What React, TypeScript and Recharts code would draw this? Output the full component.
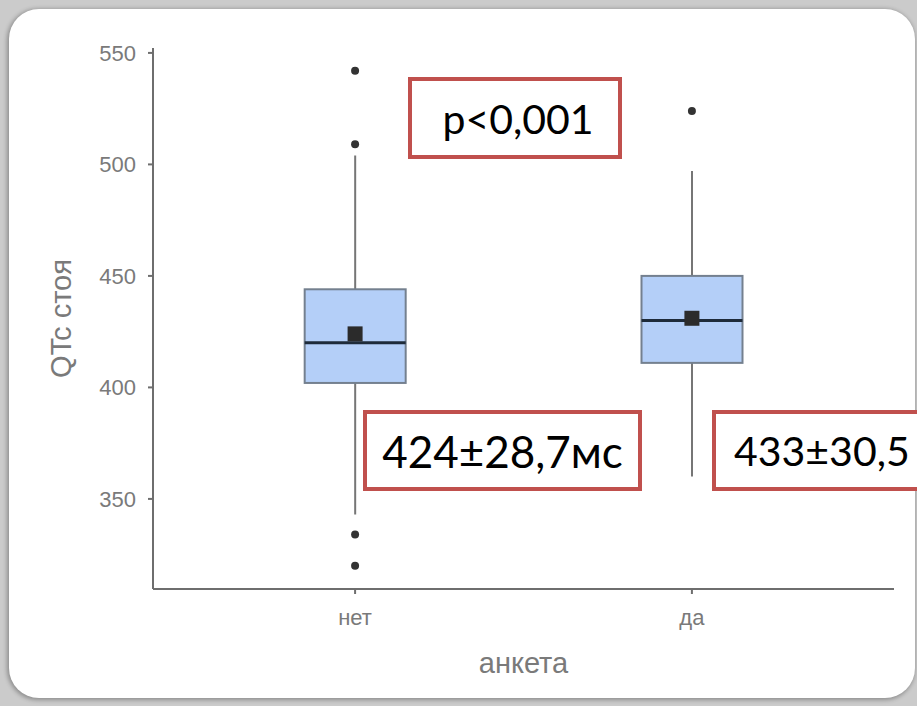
import React from "react";
import { ComposedChart, Bar, Scatter, XAxis, YAxis } from "recharts";

// groups on the x axis
const groups = ["нет", "да"];
const groupPos = [1, 2];

// box plot stats per group (QTc, ms)
const whiskerLow = [343, 360];
const q1 = [402, 411];
const median = [420, 430];
const q3 = [444, 450];
const whiskerHigh = [504, 497];
const means = [424, 431];

// outliers
const outliersNo = [542, 509, 334, 320];
const outliersYes = [524];

const yTicks = [350, 400, 450, 500, 550];

const boxData = groups.map((g, i) => ({
  pos: groupPos[i],
  name: g,
  range: [whiskerLow[i], whiskerHigh[i]],
  q1: q1[i],
  median: median[i],
  q3: q3[i],
}));
const meanData = groups.map((g, i) => ({ pos: groupPos[i], value: means[i] }));
const outlierData = [
  ...outliersNo.map((v) => ({ pos: groupPos[0], value: v })),
  ...outliersYes.map((v) => ({ pos: groupPos[1], value: v })),
];

const axisColor = "#6e6e6e";
const textColor = "#7a7a7a";
const axisFont = "'Liberation Sans', Arial, sans-serif";
const noteFont = "Lato, 'Open Sans', sans-serif";

const BoxShape: React.FC<any> = ({ x, y, width, height, payload }) => {
  const [lo, hi] = payload.range;
  const top = Math.min(y, y + height);
  const bottom = Math.max(y, y + height);
  const py = (v: number) => top + ((hi - v) / (hi - lo)) * (bottom - top);
  const cx = x + width / 2;
  return (
    <g>
      <line x1={cx} x2={cx} y1={py(hi)} y2={py(lo)} stroke="#767676" strokeWidth={2} />
      <rect
        x={x}
        y={py(payload.q3)}
        width={width}
        height={py(payload.q1) - py(payload.q3)}
        fill="#b4cff8"
        stroke="#74808f"
        strokeWidth={2}
      />
      <line x1={x} x2={x + width} y1={py(payload.median)} y2={py(payload.median)} stroke="#1e2b3a" strokeWidth={3} />
    </g>
  );
};

const MeanShape: React.FC<any> = ({ cx, cy }) => (
  <rect x={cx - 7.5} y={cy - 7.5} width={15} height={15} fill="#2b2b2b" />
);

const OutlierShape: React.FC<any> = ({ cx, cy }) => <circle cx={cx} cy={cy} r={4} fill="#333" />;

const YTitle: React.FC<any> = ({ viewBox }) => {
  const cx = 61;
  const cy = viewBox.y + viewBox.height / 2;
  return (
    <text
      x={cx}
      y={cy}
      transform={`rotate(-90 ${cx} ${cy})`}
      textAnchor="middle"
      dominantBaseline="central"
      fill={textColor}
      fontSize={29}
      fontFamily={axisFont}
    >
      QTc стоя
    </text>
  );
};

const XTitle: React.FC<any> = ({ viewBox }) => (
  <text
    x={viewBox.x + viewBox.width / 2}
    y={673}
    textAnchor="middle"
    fill={textColor}
    fontSize={29}
    fontFamily={axisFont}
  >
    анкета
  </text>
);

const noteStyle: React.CSSProperties = {
  position: "absolute",
  boxSizing: "border-box",
  border: "4px solid #c0504d",
  background: "#fff",
  display: "flex",
  alignItems: "center",
  fontFamily: noteFont,
  fontSize: 44,
  color: "#000",
  whiteSpace: "nowrap",
};

const App: React.FC = () => {
  return (
    <div
      style={{
        position: "absolute",
        left: 0,
        top: 0,
        width: 917,
        height: 706,
        overflow: "hidden",
        background: "#cbcbcb",
      }}
    >
      <div
        style={{
          position: "absolute",
          left: 9,
          top: 9,
          width: 906,
          height: 689,
          background: "#fff",
          borderRadius: 30,
          boxShadow: "-1px 1px 4px 1px rgba(0,0,0,0.3)",
        }}
      />
      <div style={{ position: "absolute", left: 0, top: 0 }}>
        <ComposedChart
          width={917}
          height={706}
          data={boxData}
          margin={{ top: 48, right: 23, bottom: 77, left: 0 }}
        >
          <XAxis
            dataKey="pos"
            type="number"
            domain={[0.4, 2.6]}
            ticks={groupPos}
            tickFormatter={(v: number) => groups[groupPos.indexOf(v)] ?? ""}
            height={40}
            axisLine={{ stroke: axisColor, strokeWidth: 2 }}
            tickLine={{ stroke: axisColor, strokeWidth: 2 }}
            tickSize={5}
            tickMargin={15}
            tick={{ fill: textColor, fontSize: 22, fontFamily: axisFont }}
            label={<XTitle />}
          />
          <YAxis
            type="number"
            domain={[309.6, 552.2]}
            allowDataOverflow
            ticks={yTicks}
            width={153}
            axisLine={{ stroke: axisColor, strokeWidth: 2 }}
            tickLine={{ stroke: axisColor, strokeWidth: 2 }}
            tickSize={5}
            tickMargin={12}
            tick={{ fill: textColor, fontSize: 22, fontFamily: axisFont }}
            label={<YTitle />}
          />
          <Bar dataKey="range" barSize={101} shape={<BoxShape />} isAnimationActive={false} />
          <Scatter data={meanData} dataKey="value" shape={<MeanShape />} isAnimationActive={false} />
          <Scatter data={outlierData} dataKey="value" shape={<OutlierShape />} isAnimationActive={false} />
        </ComposedChart>
      </div>
      <div style={{ ...noteStyle, fontSize: 41, left: 408, top: 77, width: 214, height: 82, justifyContent: "center", paddingLeft: 6 }}>
        p&lt;0,001
      </div>
      <div style={{ ...noteStyle, left: 363, top: 410, width: 279, height: 81, justifyContent: "center" }}>
        424±28,7мс
      </div>
      <div style={{ ...noteStyle, fontSize: 41, left: 712, top: 410, width: 240, height: 81, paddingLeft: 18 }}>
        433±30,5
      </div>
    </div>
  );
};

export default App;
